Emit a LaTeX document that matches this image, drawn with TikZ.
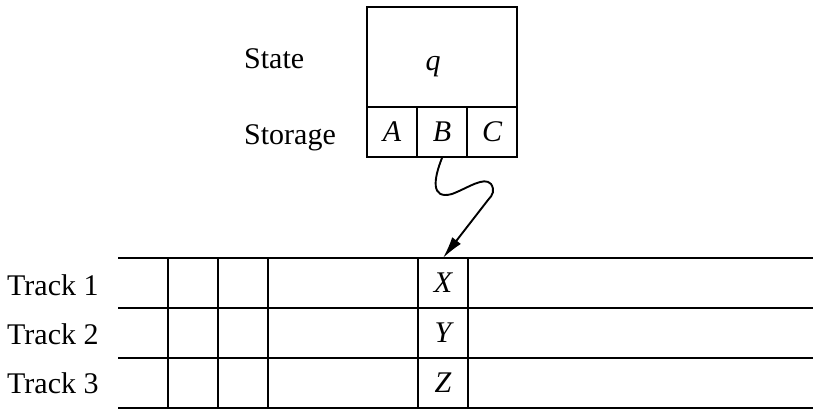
\documentclass[tikz,border=0pt]{standalone}
\usepackage{fontspec}
\setmainfont{Liberation Serif}
\usetikzlibrary{arrows.meta}
\begin{document}
\begin{tikzpicture}[x=1pt,y=-1pt,
  every node/.style={font=\fontsize{30}{33}\selectfont, inner sep=0pt},
  cellbox/.style={draw, line width=1.9pt, minimum width=50pt, minimum height=50pt},
  statebox/.style={draw, line width=1.9pt, minimum width=150pt, minimum height=100pt},
  celltext/.style={font=\fontsize{30}{33}\selectfont\itshape},
  tapeline/.style={line width=1.9pt},
  lbl/.style={anchor=base west}]
\useasboundingbox (0,0) rectangle (813,409);
% control unit
\node[statebox] (st) at (442,57) {};
\node[celltext] (q) at (433,67) {q};
\node[cellbox, celltext] (ca) at (392,132) {A};
\node[cellbox, celltext] (cb) at (442,132) {B};
\node[cellbox, celltext] (cc) at (492,132) {C};
\node[lbl] (lstate) at (244,69) {State};
\node[lbl] (lstor) at (244,144) {Storage};
% tape
\foreach \y in {258,308,358,408} \draw[tapeline] (118,\y) -- (813,\y);
\foreach \x in {168,218,268,418,468} \draw[tapeline] (\x,258) -- (\x,408);
\node[celltext] (tx) at (443,283) {X};
\node[celltext] (ty) at (443,333) {Y};
\node[celltext] (tz) at (443,383) {Z};
\coordinate (tip) at (443,258);
\node[lbl] (t1) at (7,295) {Track 1};
\node[lbl] (t2) at (7,344) {Track 2};
\node[lbl] (t3) at (7,393) {Track 3};
% arrow
\draw[line width=1.9pt, -{Latex[length=22pt,width=11pt]}]
  (cb.south) .. controls (434,178) and (430,200) .. (452,194)
  .. controls (468,188) and (484,176) .. (491,184)
  .. controls (495,190) and (493,195) .. (488,200) -- (tip);
\end{tikzpicture}
\end{document}
